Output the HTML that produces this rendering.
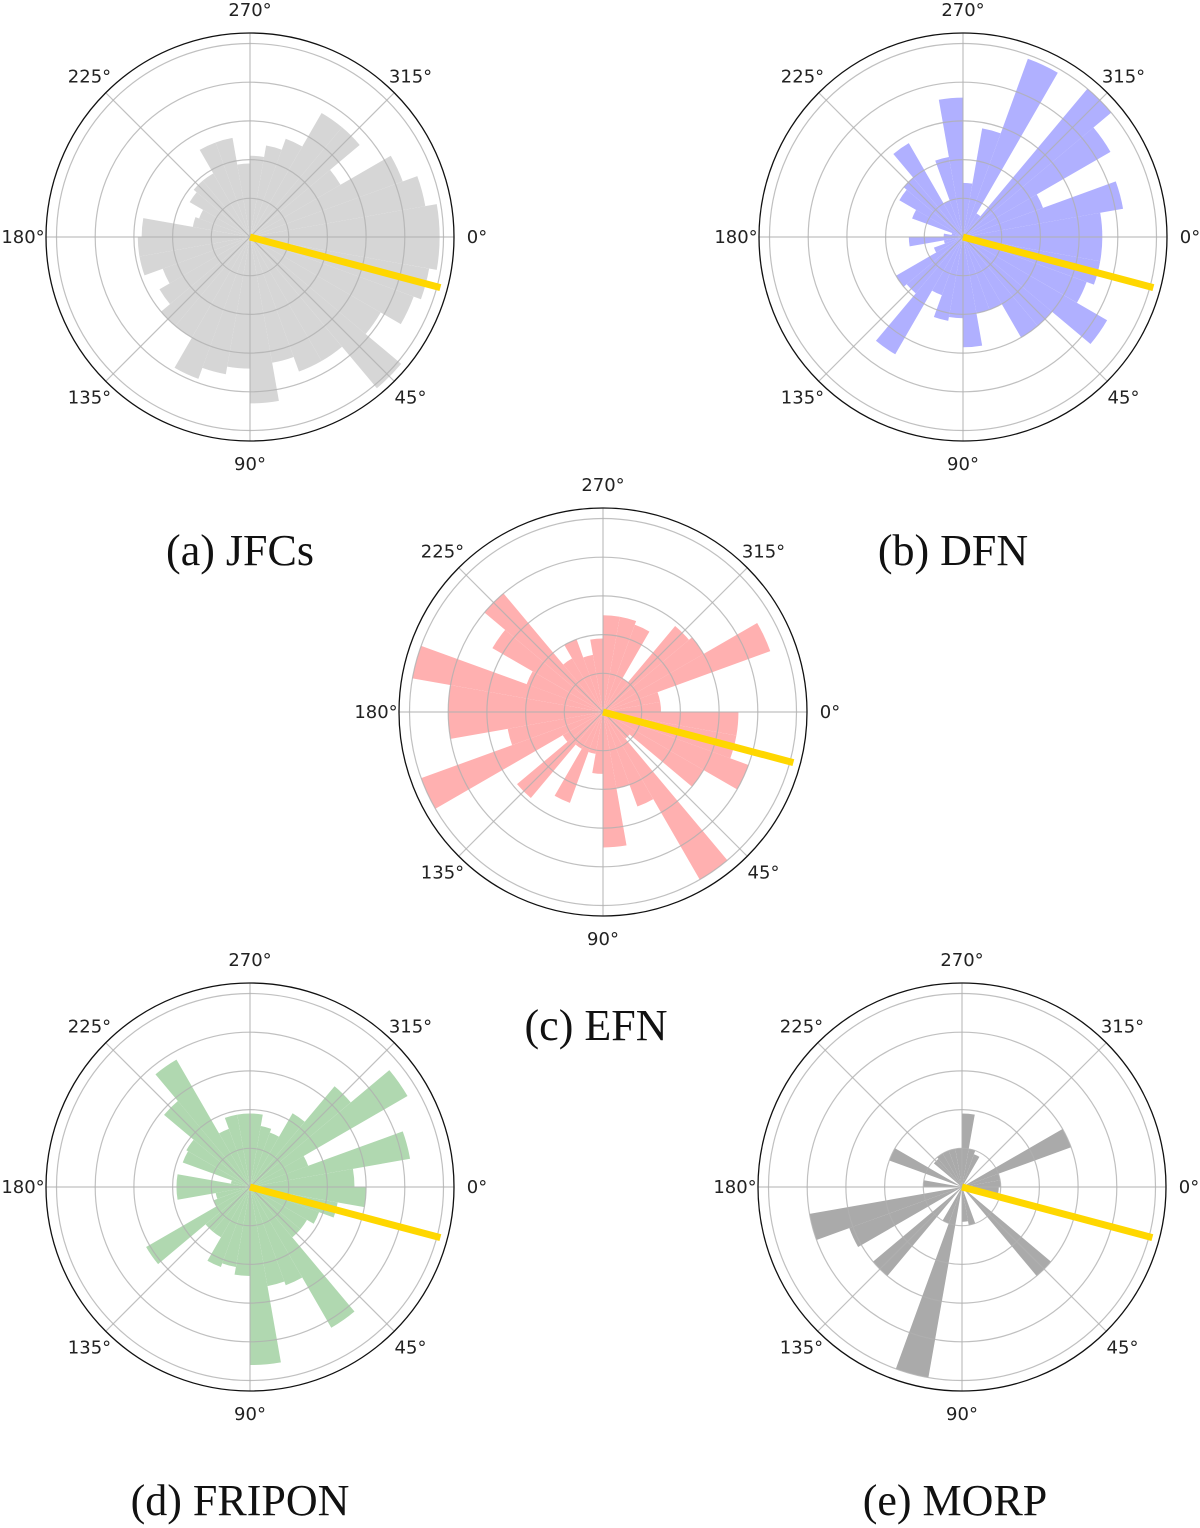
<!DOCTYPE html>
<html><head><meta charset="utf-8">
<style>
html,body{margin:0;padding:0;background:#fff;}
svg{display:block;}
.tick{font-family:"DejaVu Sans","Liberation Sans",sans-serif;font-size:18px;fill:#222;}
.cap{font-family:"Liberation Serif",serif;font-size:44px;fill:#111;}
</style></head>
<body>
<svg id="chart" width="1200" height="1528" viewBox="0 0 1200 1528" xmlns="http://www.w3.org/2000/svg"></svg>
<script>
// bin centers (deg, clockwise from right), 10° bins
const binCenters = [5,15,25,35,45,55,65,75,85,95,105,115,125,135,145,155,165,175,185,195,205,215,225,235,245,255,265,275,285,295,305,315,325,335,345,355];
// radial values in grid-ring units
const jfcsValues   = [4.9,4.7,4.5,3.9,5.1,3.7,3.7,3.3,4.3,3.4,3.6,3.9,3.0,3.0,2.7,2.4,2.9,2.9,2.8,1.5,1.4,1.8,1.9,1.9,2.6,2.6,1.9,2.1,2.4,2.7,3.7,3.7,2.7,4.2,4.6,4.9];
const dfnValues    = [3.6,3.6,3.4,4.3,3.0,3.0,2.0,2.0,2.85,2.1,2.2,1.6,3.5,1.9,2.0,0.8,0.5,1.4,0.5,0.3,1.4,1.9,2.0,2.8,1.0,2.1,3.6,1.4,2.85,4.9,0.7,5.0,4.4,2.2,4.2,3.6];
const efnValues    = [3.5,3.5,4.0,3.0,0.9,5.0,2.6,2.0,3.5,1.6,1.1,2.5,1.1,2.9,1.2,5.0,2.5,4.0,4.0,5.0,2.1,3.3,4.0,1.6,2.0,1.5,1.9,2.5,2.5,2.4,1.0,2.9,3.0,4.6,1.5,1.5];
const friponValues = [3.0,2.3,1.9,1.7,1.7,4.2,2.7,2.6,4.6,2.3,2.1,2.2,1.5,1.5,3.1,1.0,0.9,1.9,1.9,0.5,1.85,1.9,2.9,3.8,1.6,1.9,1.9,1.9,1.6,1.5,2.2,3.4,4.7,1.6,4.2,2.7];
const morpValues   = [0.95,0.9,0,0,3.0,0,0,1.0,0.9,0,5.0,1.0,0,3.0,0,3.1,4.0,0,1.0,0,2.0,0,0.95,1.0,1.0,1.0,1.0,1.9,1.0,0.9,0,0,0,3.0,1.0,1.0];
// reference direction (deg)
const refAngle = [14.9];
const angleTicks = [0,45,90,135,180,225,270,315];
const ringTicks = [1,2,3,4,5];
const captions = ["(a) JFCs","(b) DFN","(c) EFN","(d) FRIPON","(e) MORP"];

const svg = document.getElementById('chart');
const NS = 'http://www.w3.org/2000/svg';
const UNIT = 38.7, RMAX = 204;
function rScale(v){ return v*UNIT; }
function pt(cx,cy,r,deg){ const a=deg*Math.PI/180; return [cx+r*Math.cos(a), cy+r*Math.sin(a)]; }
function mk(tag, attrs, parent){ const e=document.createElementNS(NS,tag); for(const k in attrs) e.setAttribute(k,attrs[k]); (parent||svg).appendChild(e); return e; }

const panels = [
 {id:'jfcs', cx:250, cy:237, vals:jfcsValues, color:'#d6d6d6', cap:captions[0], capx:240, capy:565},
 {id:'dfn', cx:963, cy:237, vals:dfnValues, color:'#b0b0ff', cap:captions[1], capx:953, capy:565},
 {id:'efn', cx:603, cy:712, vals:efnValues, color:'#ffb0b0', cap:captions[2], capx:596, capy:1040},
 {id:'fripon', cx:250, cy:1187, vals:friponValues, color:'#b0d8b0', cap:captions[3], capx:240, capy:1515},
 {id:'morp', cx:962, cy:1187, vals:morpValues, color:'#aaaaaa', cap:captions[4], capx:955, capy:1515}
];

panels.forEach(p=>{
  const g = mk('g',{});
  
  
  binCenters.forEach((c,i)=>{
    const v = p.vals[i]; if(!(v>0)) return;
    const r = rScale(v);
    const a0=c-5, a1=c+5;
    const [x0,y0]=pt(p.cx,p.cy,r,a0), [x1,y1]=pt(p.cx,p.cy,r,a1);
    const path = mk('path',{d:`M${p.cx},${p.cy} L${x0},${y0} A${r},${r} 0 0 1 ${x1},${y1} Z`, fill:p.color}, g);
    
    
  });
  ringTicks.forEach(t=>{
    const c = mk('circle',{cx:p.cx,cy:p.cy,r:rScale(t),fill:'none',stroke:'#b0b0b0','stroke-width':1.2,'stroke-opacity':0.8}, g);
    
    
  });
  angleTicks.forEach(a=>{
    const [x,y]=pt(p.cx,p.cy,RMAX,a);
    const l = mk('line',{x1:p.cx,y1:p.cy,x2:x,y2:y,stroke:'#b0b0b0','stroke-width':1.2,'stroke-opacity':0.8}, g);
    
    
    const [tx,ty]=pt(p.cx,p.cy,RMAX+23,a);
    const t = mk('text',{x:tx,y:ty+6,'text-anchor':'middle',class:'tick'}, g);
    t.textContent = a+'°';
    
    
  });
  const o = mk('circle',{cx:p.cx,cy:p.cy,r:RMAX,fill:'none',stroke:'#111','stroke-width':1.3}, g);
  
  
  const [ex,ey]=pt(p.cx,p.cy,197,refAngle[0]);
  const y = mk('line',{x1:p.cx,y1:p.cy,x2:ex,y2:ey,stroke:'#ffd700','stroke-width':7}, g);
  
  
  const cap = mk('text',{x:p.capx,y:p.capy,'text-anchor':'middle',class:'cap'});
  cap.textContent = p.cap;
  
  
});
</script>
</body></html>
